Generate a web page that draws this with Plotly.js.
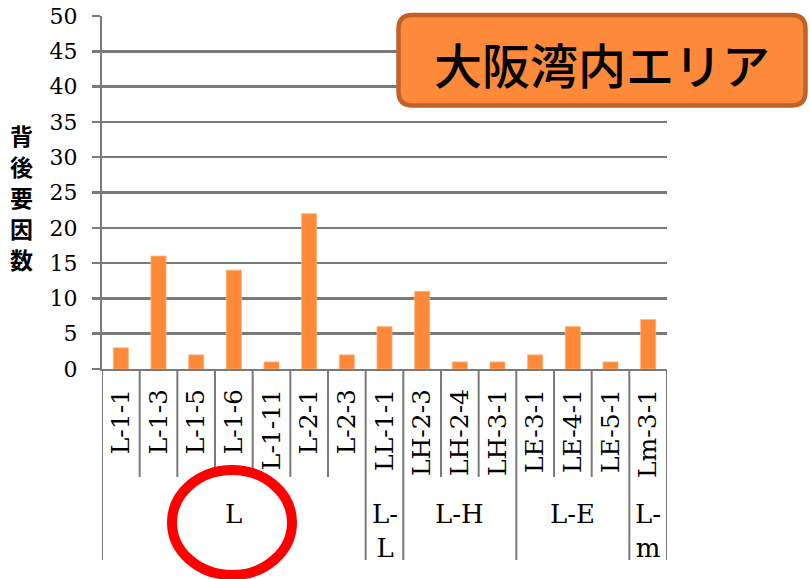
<!DOCTYPE html>
<html>
<head>
<meta charset="utf-8">
<script src="https://cdn.plot.ly/plotly-3.0.1.min.js"></script>
<style>
  html, body { margin: 0; padding: 0; background: #ffffff; }
  #chart { width: 810px; height: 579px; }
</style>
</head>
<body>
<div id="chart"></div>
<script>
// 背後要因数 per site, 大阪湾内エリア
const categories = ['L-1-1', 'L-1-3', 'L-1-5', 'L-1-6', 'L-1-11', 'L-2-1', 'L-2-3',
                    'LL-1-1', 'LH-2-3', 'LH-2-4', 'LH-3-1', 'LE-3-1', 'LE-4-1', 'LE-5-1', 'Lm-3-1'];
const values = [3, 16, 2, 14, 1, 22, 2, 6, 11, 1, 1, 2, 6, 1, 7];
const groupNames = ['L', 'L-L', 'L-H', 'L-E', 'L-m'];
const groupSizes = [7, 1, 3, 3, 1];
const yTicks = [0, 5, 10, 15, 20, 25, 30, 35, 40, 45, 50];
const yTitle = '背後要因数';
const boxTitle = '大阪湾内エリア';

// plot area in page pixels
const W = 810, H = 579;
const L = 102, R = 143, T = 16, B = 210;
const PW = W - L - R, PH = H - T - B;
const px = X => (X - L) / PW;
const py = Y => (H - B - Y) / PH;

const GRID = '#7a7a7a';
const ORANGE = '#fe8a37';
const SERIF = '"DejaVu Serif", "Liberation Serif", serif';
const CJK = '"Noto Sans CJK JP", sans-serif';

const shapes = [];
const annotations = [];

// category boundaries below the axis; group boundaries run deeper
const groupStart = [];
let acc = 0;
groupSizes.forEach(s => { groupStart.push(acc); acc += s; });
for (let i = 0; i <= categories.length; i++) {
  const isGroupEdge = groupStart.includes(i) || i === categories.length;
  shapes.push({
    type: 'line', xref: 'x', yref: 'paper',
    x0: i - 0.5, x1: i - 0.5, y0: 0, y1: py(isGroupEdge ? 560 : 477),
    line: { color: GRID, width: 2 }, layer: 'below'
  });
}

// group labels; single-column groups wrap after the hyphen
groupNames.forEach((g, k) => {
  const first = groupStart[k], last = groupStart[k] + groupSizes[k] - 1;
  const text = groupSizes[k] === 1 ? g.replace('-', '-<br>') : g;
  annotations.push({
    xref: 'x', yref: 'paper', x: (first + last) / 2, y: py(497),
    xanchor: 'center', yanchor: 'top', showarrow: false,
    text: text, font: { family: SERIF, size: 26, color: '#000000' }
  });
});

// vertical axis title, one character per row
yTitle.split('').forEach((ch, k) => {
  annotations.push({
    xref: 'paper', yref: 'paper', x: px(21), y: py(135 + 31 * k),
    xanchor: 'center', yanchor: 'middle', showarrow: false,
    text: ch, borderpad: 0,
    font: { family: CJK, size: 23, color: '#000000', weight: 'bold' }
  });
});

// rounded title box
function roundedRect(x0, y0, x1, y1, r) {
  const a = px(x0), b = px(x1), top = py(y0), bot = py(y1);
  const rx = r / PW, ry = r / PH;
  return `M ${a + rx},${top} L ${b - rx},${top} Q ${b},${top} ${b},${top - ry} ` +
         `L ${b},${bot + ry} Q ${b},${bot} ${b - rx},${bot} ` +
         `L ${a + rx},${bot} Q ${a},${bot} ${a},${bot + ry} ` +
         `L ${a},${top - ry} Q ${a},${top} ${a + rx},${top} Z`;
}
shapes.push({
  type: 'path', xref: 'paper', yref: 'paper',
  path: roundedRect(398.5, 15, 805.5, 105.5, 14),
  fillcolor: '#fd8a3a', line: { color: '#c0622a', width: 4.5 }, layer: 'above'
});
annotations.push({
  xref: 'paper', yref: 'paper', x: px(602), y: py(63),
  xanchor: 'center', yanchor: 'middle', showarrow: false,
  text: boxTitle, font: { family: CJK, size: 48, color: '#000000', weight: 500 }
});

// red ring around the L group
shapes.push({
  type: 'circle', xref: 'paper', yref: 'paper',
  x0: px(172), x1: px(292), y0: py(575), y1: py(470),
  line: { color: '#ff0000', width: 10 }, fillcolor: 'rgba(0,0,0,0)', layer: 'above'
});

const trace = {
  type: 'bar', x: categories, y: values,
  marker: { color: ORANGE, line: { color: '#ffb27a', width: 0.8 } },
  hoverinfo: 'x+y'
};

const layout = {
  width: W, height: H,
  margin: { l: L, r: R, t: T, b: B, pad: 0 },
  paper_bgcolor: '#ffffff', plot_bgcolor: '#ffffff',
  showlegend: false, bargap: 0.6,
  font: { family: SERIF, color: '#000000' },
  xaxis: {
    type: 'category', categoryorder: 'array', categoryarray: categories,
    range: [-0.5, categories.length - 0.5],
    showgrid: false, zeroline: false,
    showline: true, linecolor: GRID, linewidth: 2,
    ticks: '', tickangle: -90, ticklabelstandoff: 8,
    tickfont: { family: SERIF, size: 25, color: '#000000' }
  },
  yaxis: {
    range: [0, 50], tickvals: yTicks, ticktext: yTicks.map(String),
    showgrid: true, gridcolor: GRID, gridwidth: 2.5, zeroline: false,
    showline: true, linecolor: GRID, linewidth: 2,
    ticks: 'outside', ticklen: 8, tickwidth: 2.5, tickcolor: GRID,
    ticklabelstandoff: 10,
    tickfont: { family: SERIF, size: 22, color: '#000000' }
  },
  shapes: shapes,
  annotations: annotations
};

Plotly.newPlot('chart', [trace], layout, { staticPlot: true, displayModeBar: false });
</script>
</body>
</html>
